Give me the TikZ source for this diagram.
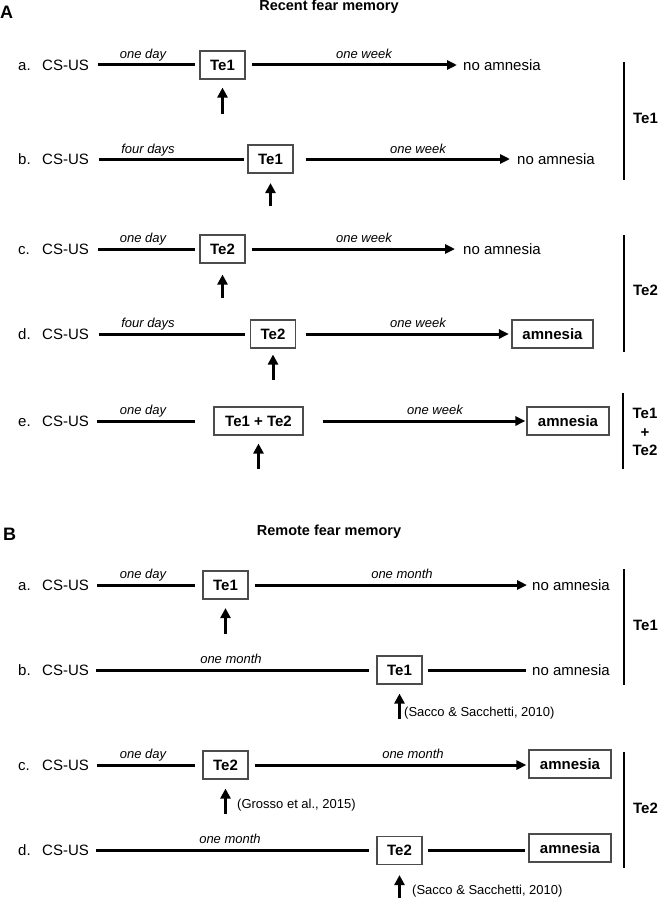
\documentclass[tikz,border=0pt]{standalone}
\usepackage{fontspec}
\setmainfont{Liberation Sans}
\usetikzlibrary{arrows.meta}
\begin{document}
\begin{tikzpicture}[x=1pt,y=-1pt,
 txt/.style={inner sep=0pt, font=\fontsize{15}{18}\selectfont, anchor=base west},
 dur/.style={inner sep=0pt, font=\fontsize{13}{16}\selectfont\itshape, anchor=base},
 cite/.style={inner sep=0pt, font=\fontsize{13}{16}\selectfont, anchor=base west},
 tbox/.style={draw=black!70, line width=1.1pt, inner sep=0pt, minimum width=45pt, minimum height=28pt, font=\fontsize{15}{18}\selectfont\bfseries},
 seg/.style={line width=3pt},
 harr/.style={line width=3pt, -{Triangle[length=10pt,width=9pt]}},
 uarr/.style={line width=3pt, -{Triangle[length=10pt,width=10pt]}},
 brk/.style={line width=2.4pt},
 blab/.style={inner sep=0pt, font=\fontsize{15}{18.5}\selectfont\bfseries, align=center},
 ttl/.style={inner sep=0pt, font=\fontsize{14.5}{17}\selectfont\bfseries, anchor=base},
 panel/.style={inner sep=0pt, font=\fontsize{18}{20}\selectfont\bfseries, anchor=base west}]
\useasboundingbox (0,0) rectangle (658,899);

% ---------------- Panel A ----------------
\node[panel] (pA) at (0,18.3) {A};
\node[ttl] (tA) at (329,11) {Recent fear memory};

% row a
\node[txt] (la) at (18,70.5) {a.};
\node[txt] (csa) at (42,70.5) {CS-US};
\node[tbox] (te1a) at (222.5,65) {Te1};
\node[txt] (ra) at (463,70.5) {no amnesia};
\draw[seg, shorten <=9pt, shorten >=4pt] (csa.east |- te1a.west) -- (te1a.west);
\draw[harr, shorten <=6pt, shorten >=6pt] (te1a.east) -- (te1a.east -| ra.west);
\node[dur] (da1) at (143,58.5) {one day};
\node[dur] (da2) at (364,58.5) {one week};
\draw[uarr] ([yshift=-34pt]te1a.south) -- ([yshift=-8pt]te1a.south);

% row b
\node[txt] (lb) at (18,164.5) {b.};
\node[txt] (csb) at (42,164.5) {CS-US};
\node[tbox] (te1b) at (270.5,159) {Te1};
\node[txt] (rb) at (517,164.5) {no amnesia};
\draw[seg, shorten <=10pt, shorten >=3pt] (csb.east |- te1b.west) -- (te1b.west);
\draw[harr, shorten <=12pt, shorten >=7pt] (te1b.east) -- (te1b.east -| rb.west);
\node[dur] (db1) at (148,153) {four days};
\node[dur] (db2) at (418,153) {one week};
\draw[uarr] ([yshift=-32.5pt]te1b.south) -- ([yshift=-9.5pt]te1b.south);

% bracket Te1 (A)
\coordinate (bA1t) at (624,62);
\coordinate (bA1b) at (624,180);
\draw[brk] (bA1t) -- (bA1b);
\node[blab] (lA1) at (645.5,118) {Te1};

% row c
\node[txt] (lc) at (18,254.5) {c.};
\node[txt] (csc) at (42,254.5) {CS-US};
\node[tbox] (te2c) at (222.5,249) {Te2};
\node[txt] (rc) at (463,254.5) {no amnesia};
\draw[seg, shorten <=9pt, shorten >=4pt] (csc.east |- te2c.west) -- (te2c.west);
\draw[harr, shorten <=6pt, shorten >=8pt] (te2c.east) -- (te2c.east -| rc.west);
\node[dur] (dc1) at (143,242.5) {one day};
\node[dur] (dc2) at (364,242.5) {one week};
\draw[uarr] ([yshift=-34pt]te2c.south) -- ([yshift=-11pt]te2c.south);

% row d
\node[txt] (ld) at (18,339.5) {d.};
\node[txt] (csd) at (42,339.5) {CS-US};
\node[tbox] (te2d) at (273,334) {Te2};
\node[tbox, minimum width=81pt] (amd) at (552.5,334) {amnesia};
\draw[seg, shorten <=10pt, shorten >=5pt] (csd.east |- te2d.west) -- (te2d.west);
\draw[harr, shorten <=9.5pt, shorten >=2.5pt] (te2d.east) -- (amd.west);
\node[dur] (dd1) at (148,327.5) {four days};
\node[dur] (dd2) at (418,327.5) {one week};
\draw[uarr] ([yshift=-31pt]te2d.south) -- ([yshift=-6pt]te2d.south);

% bracket Te2 (A)
\coordinate (bA2t) at (624,235);
\coordinate (bA2b) at (624,352);
\draw[brk] (bA2t) -- (bA2b);
\node[blab] (lA2) at (645.5,290) {Te2};

% row e
\node[txt] (le) at (18,426.5) {e.};
\node[txt] (cse) at (42,426.5) {CS-US};
\node[tbox, minimum width=89pt] (te12) at (258.5,421) {Te1 + Te2};
\node[tbox, minimum width=82pt] (ame) at (568,421) {amnesia};
\draw[seg, shorten <=8pt, shorten >=18pt] (cse.east |- te12.west) -- (te12.west);
\draw[harr, shorten <=19pt, shorten >=1pt] (te12.east) -- (ame.west);
\node[dur] (de1) at (143,414.5) {one day};
\node[dur] (de2) at (435,414.5) {one week};
\draw[uarr] ([yshift=-33pt]te12.south) -- ([yshift=-8pt]te12.south);

% bracket Te1 + Te2 (A)
\coordinate (bA3t) at (623,393);
\coordinate (bA3b) at (623,469);
\draw[brk] (bA3t) -- (bA3b);
\node[blab] (lA3) at (645,432) {Te1\\+\\Te2};

% ---------------- Panel B ----------------
\node[panel] (pB) at (3,540.5) {B};
\node[ttl] (tB) at (329,535) {Remote fear memory};

% row a
\node[txt] (lBa) at (18,590.5) {a.};
\node[txt] (csBa) at (42,590.5) {CS-US};
\node[tbox] (te1Ba) at (225.5,585) {Te1};
\node[txt] (rBa) at (532,590.5) {no amnesia};
\draw[seg, shorten <=8pt, shorten >=7pt] (csBa.east |- te1Ba.west) -- (te1Ba.west);
\draw[harr, shorten <=6pt, shorten >=5pt] (te1Ba.east) -- (te1Ba.east -| rBa.west);
\node[dur] (dBa1) at (143,578) {one day};
\node[dur] (dBa2) at (402,578) {one month};
\draw[uarr] ([yshift=-34.5pt]te1Ba.south) -- ([yshift=-8.5pt]te1Ba.south);

% row b
\node[txt] (lBb) at (18,675.5) {b.};
\node[txt] (csBb) at (42,675.5) {CS-US};
\node[tbox] (te1Bb) at (399.5,670) {Te1};
\node[txt] (rBb) at (532,675.5) {no amnesia};
\draw[seg, shorten <=7.3pt, shorten >=7pt] (csBb.east |- te1Bb.west) -- (te1Bb.west);
\draw[seg, shorten <=5pt, shorten >=6pt] (te1Bb.east) -- (te1Bb.east -| rBb.west);
\node[dur] (dBb1) at (231,663) {one month};
\draw[uarr] ([yshift=-34pt]te1Bb.south) -- ([yshift=-9pt]te1Bb.south);
\node[cite] (cBb) at (404,716) {(Sacco \& Sacchetti, 2010)};

% bracket Te1 (B)
\coordinate (bB1t) at (624,569);
\coordinate (bB1b) at (624,685);
\draw[brk] (bB1t) -- (bB1b);
\node[blab] (lB1) at (645.5,625) {Te1};

% row c
\node[txt] (lBc) at (18,770.5) {c.};
\node[txt] (csBc) at (42,770.5) {CS-US};
\node[tbox] (te2Bc) at (225.5,765) {Te2};
\node[tbox, minimum width=82pt] (amBc) at (570,764) {amnesia};
\draw[seg, shorten <=8pt, shorten >=7pt] (csBc.east |- te2Bc.west) -- (te2Bc.west);
\draw[harr, shorten <=6pt, shorten >=2pt] (te2Bc.east) -- (te2Bc.east -| amBc.west);
\node[dur] (dBc1) at (143,758) {one day};
\node[dur] (dBc2) at (413,758) {one month};
\draw[uarr] ([yshift=-34pt]te2Bc.south) -- ([yshift=-9pt]te2Bc.south);
\node[cite] (cBc) at (237,808) {(Grosso et al., 2015)};

% row d
\node[txt] (lBd) at (18,855.5) {d.};
\node[txt] (csBd) at (42,855.5) {CS-US};
\node[tbox] (te2Bd) at (399.5,850.5) {Te2};
\node[tbox, minimum width=82pt] (amBd) at (570,848) {amnesia};
\draw[seg, shorten <=7.3pt, shorten >=7pt] (csBd.east |- te2Bd.west) -- (te2Bd.west);
\draw[seg, shorten <=5pt, shorten >=3pt] (te2Bd.east) -- (te2Bd.east -| amBd.west);
\node[dur] (dBd1) at (230,843) {one month};
\draw[uarr] ([yshift=-33pt]te2Bd.south) -- ([yshift=-10pt]te2Bd.south);
\node[cite] (cBd) at (412,894) {(Sacco \& Sacchetti, 2010)};

% bracket Te2 (B)
\coordinate (bB2t) at (624,752);
\coordinate (bB2b) at (624,868);
\draw[brk] (bB2t) -- (bB2b);
\node[blab] (lB2) at (645.5,808) {Te2};
\end{tikzpicture}
\end{document}
